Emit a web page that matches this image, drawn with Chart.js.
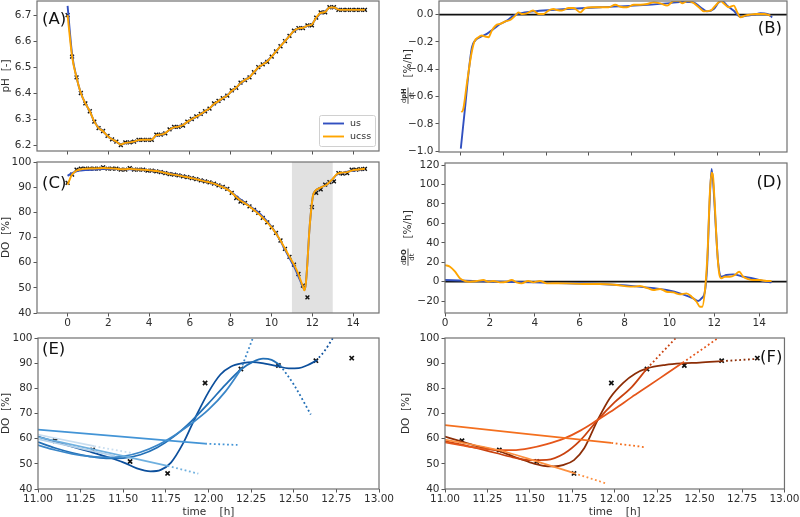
<!DOCTYPE html>
<html><head><meta charset="utf-8">
<script src="https://cdn.jsdelivr.net/npm/chart.js@4/dist/chart.umd.min.js"></script>
<style>
html,body{margin:0;padding:0;background:#fff;width:800px;height:517px;overflow:hidden;position:relative}
canvas{position:absolute}
</style></head><body>
<script>
// ---------------- DATA ----------------
const tGrid = [0,0.22,0.44,0.65,0.87,1.09,1.31,1.52,1.74,1.96,2.18,2.39,2.61,2.83,3.05,3.26,3.48,3.70,3.92,4.13,4.35,4.57,4.79,5.00,5.22,5.44,5.66,5.87,6.09,6.31,6.53,6.74,6.96,7.18,7.40,7.61,7.83,8.05,8.27,8.48,8.70,8.92,9.14,9.35,9.57,9.79,10.01,10.22,10.44,10.66,10.88,11.10,11.32,11.54,11.76,11.98,12.19,12.41,12.63,12.84,13.06,13.28,13.49,13.71,13.93,14.15,14.36,14.58];
const pHMeasured = [6.70,6.54,6.46,6.40,6.36,6.33,6.29,6.265,6.254,6.235,6.222,6.213,6.20,6.21,6.21,6.213,6.22,6.22,6.22,6.22,6.24,6.24,6.245,6.26,6.27,6.27,6.275,6.29,6.30,6.31,6.32,6.33,6.34,6.36,6.37,6.38,6.39,6.41,6.42,6.44,6.45,6.46,6.48,6.50,6.51,6.52,6.54,6.56,6.58,6.60,6.62,6.64,6.65,6.65,6.66,6.66,6.69,6.71,6.71,6.73,6.73,6.72,6.72,6.72,6.72,6.72,6.72,6.72];
const pHUs = [6.735,6.55,6.46,6.40,6.36,6.33,6.29,6.268,6.252,6.235,6.222,6.212,6.203,6.207,6.21,6.213,6.218,6.22,6.22,6.222,6.236,6.24,6.246,6.258,6.267,6.272,6.278,6.288,6.298,6.308,6.318,6.329,6.341,6.356,6.368,6.379,6.392,6.407,6.421,6.437,6.45,6.462,6.479,6.497,6.51,6.524,6.541,6.56,6.58,6.60,6.62,6.638,6.648,6.652,6.658,6.665,6.688,6.707,6.714,6.728,6.728,6.722,6.72,6.72,6.72,6.72,6.72,6.72];
const pHUcss = [6.70,6.54,6.46,6.40,6.36,6.33,6.29,6.266,6.253,6.235,6.222,6.213,6.202,6.208,6.21,6.213,6.219,6.22,6.22,6.221,6.238,6.24,6.246,6.259,6.268,6.271,6.277,6.289,6.299,6.309,6.319,6.33,6.341,6.358,6.369,6.38,6.391,6.408,6.421,6.438,6.45,6.461,6.48,6.498,6.51,6.522,6.54,6.56,6.58,6.60,6.62,6.639,6.649,6.651,6.659,6.664,6.69,6.708,6.712,6.729,6.729,6.721,6.72,6.72,6.72,6.72,6.72,6.72];
const doMeasured = [91.7,95,97,97.4,97.4,97.4,97.4,97.4,97.9,97.4,97.4,97.4,97,97,97.6,97,97,97,96.6,96.6,96.3,96,95.6,95.2,95,94.7,94.3,94,93.6,93.2,92.7,92.3,91.9,91.4,90.7,90.1,89.3,87.7,85.7,84.3,83.7,82.4,81,79.8,77.8,76,74,71.8,68.8,65.5,62.3,59.2,55.5,50.9,46.2,82.1,87.7,89.1,91.0,92.0,92.3,95.6,95.4,95.6,97,97,97.2,97.3];
const doUcss = [[0,91.0],[0.22,95.0],[0.44,96.6],[0.65,97.1],[0.87,97.3],[1.09,97.4],[1.31,97.4],[1.52,97.5],[1.74,97.6],[1.96,97.5],[2.18,97.4],[2.39,97.3],[2.61,97.1],[2.83,97.1],[3.05,97.3],[3.26,97.1],[3.48,97.0],[3.70,96.9],[3.92,96.8],[4.13,96.6],[4.35,96.4],[4.57,96.1],[4.79,95.7],[5.00,95.3],[5.22,95.0],[5.44,94.7],[5.66,94.3],[5.87,94.0],[6.09,93.6],[6.31,93.2],[6.53,92.7],[6.74,92.3],[6.96,91.9],[7.18,91.4],[7.40,90.7],[7.61,90.0],[7.83,89.1],[8.05,87.8],[8.27,86.1],[8.48,84.7],[8.70,83.6],[8.92,82.3],[9.14,80.9],[9.35,79.5],[9.57,77.8],[9.79,76.0],[10.01,73.9],[10.22,71.6],[10.44,68.8],[10.66,65.6],[10.88,62.4],[11.10,59.3],[11.32,55.4],[11.45,52.5],[11.54,50.6],[11.61,49.0],[11.68,51.5],[11.76,60],[11.84,71],[11.92,79],[12.03,86.5],[12.15,88.6],[12.3,89.4],[12.5,90.2],[12.72,91.1],[12.97,93.0],[13.21,95.2],[13.49,95.8],[13.71,96.0],[13.93,96.6],[14.15,96.9],[14.36,97.1],[14.58,97.3]];
const doUs = [[0,94.5],[0.22,95.6],[0.44,96.3],[0.65,96.6],[0.87,96.8],[1.31,97.0],[1.74,97.2],[2.18,97.2],[2.61,97.1],[3.05,97.1],[3.48,97.0],[3.92,96.8],[4.35,96.4],[4.79,95.8],[5.22,95.1],[5.66,94.4],[6.09,93.7],[6.53,92.8],[6.96,91.9],[7.40,90.8],[7.83,89.2],[8.27,86.4],[8.70,83.8],[9.14,81.3],[9.35,80.0],[9.57,78.3],[9.79,76.4],[10.01,74.1],[10.22,71.6],[10.44,68.6],[10.66,65.2],[10.88,61.8],[11.10,58.5],[11.32,54.5],[11.45,52.0],[11.54,50.4],[11.61,49.2],[11.68,51.5],[11.76,60],[11.84,71],[11.92,79],[12.03,86.5],[12.15,88.6],[12.3,89.4],[12.5,90.2],[12.72,91.1],[12.97,93.0],[13.21,95.0],[13.49,95.7],[13.93,96.5],[14.58,97.2]];
const dpHUs = [[0,-0.98],[0.2,-0.68],[0.36,-0.43],[0.52,-0.24],[0.67,-0.19],[0.9,-0.165],[1.22,-0.141],[1.53,-0.105],[1.84,-0.068],[2.16,-0.044],[2.47,-0.007],[2.78,0.01],[3.4,0.024],[4.2,0.034],[4.97,0.041],[6.53,0.054],[8.1,0.066],[9.66,0.083],[10.44,0.095],[10.9,0.09],[11.22,0.054],[11.53,0.024],[11.84,0.041],[12.08,0.09],[12.23,0.10],[12.47,0.066],[12.78,0.029],[13.09,-0.015],[13.4,-0.007],[13.72,0],[14.03,0.01],[14.34,0.005],[14.58,-0.02]];
const dpHUcss = [[0.02,-0.713],[0.1,-0.70],[0.28,-0.51],[0.47,-0.31],[0.63,-0.20],[0.83,-0.165],[0.98,-0.153],[1.14,-0.16],[1.3,-0.165],[1.45,-0.117],[1.69,-0.073],[1.84,-0.068],[2.08,-0.049],[2.31,-0.039],[2.55,-0.007],[2.7,0.017],[2.86,0.005],[3.09,0.01],[3.38,0.03],[3.64,0.005],[3.88,0.005],[4.1,0.03],[4.34,0.041],[4.5,0.034],[4.73,0.03],[5.05,0.049],[5.28,0.049],[5.59,0.017],[5.83,0.049],[6.14,0.054],[6.53,0.054],[6.92,0.054],[7.23,0.073],[7.47,0.058],[7.78,0.054],[8.1,0.073],[8.41,0.073],[8.72,0.078],[9.03,0.09],[9.34,0.083],[9.66,0.066],[9.97,0.10],[10.2,0.10],[10.36,0.083],[10.6,0.10],[10.85,0.09],[11.14,0.054],[11.38,0.024],[11.69,0.029],[11.92,0.066],[12.16,0.10],[12.34,0.078],[12.55,0.054],[12.78,0.066],[12.94,0.017],[13.1,-0.02],[13.3,-0.007],[13.53,0],[13.84,0.005],[14.2,0.005],[14.5,-0.007]];
const dDOUs = [[0,1.7],[0.96,1.0],[2.45,0],[3.93,-0.7],[5.42,-1.7],[6.9,-2.4],[8.39,-4.5],[9.87,-8.6],[10.6,-13],[11.06,-17.1],[11.28,-19.9],[11.43,-17.1],[11.58,-10.3],[11.68,15],[11.78,75],[11.88,116],[11.97,95],[12.07,55],[12.17,20],[12.32,5.1],[12.54,6.9],[12.84,7.5],[13.29,5.1],[13.73,3.4],[14.17,0.7],[14.55,-0.7]];
const dDOUcss = [[0,17.1],[0.22,15.4],[0.45,10.3],[0.67,3.4],[0.89,0.7],[1.11,0],[1.41,0.7],[1.71,1.7],[1.93,0],[2.15,0.7],[2.45,-0.7],[2.75,0],[2.97,1.7],[3.19,-0.7],[3.41,-1.7],[3.71,0.7],[3.93,-0.7],[4.23,0.7],[4.53,-1.7],[5.0,-1.6],[5.42,-1.7],[6.16,-2.4],[6.9,-2.4],[7.65,-3.4],[8.1,-4.8],[8.39,-5.1],[8.68,-4.5],[9.06,-6.9],[9.28,-8.6],[9.58,-7.5],[9.87,-10.3],[10.17,-11],[10.47,-13],[10.76,-12],[10.99,-15.4],[11.21,-20.6],[11.36,-25.7],[11.46,-25.7],[11.6,-5],[11.7,30],[11.8,90],[11.88,112],[11.94,109],[12.02,80],[12.12,35],[12.22,8],[12.32,3.4],[12.47,5.1],[12.69,5.1],[12.92,6.9],[13.11,10.3],[13.29,5.1],[13.51,2.7],[13.73,1.7],[14.03,1.7],[14.33,0.7],[14.55,0.7]];
// panel E fits (blue family): solid window part + dotted extrapolation
const eLine1 = [[11.0,63.6],[11.98,58.0]];           const eLine1Ext = [[11.98,58.0],[12.17,57.5]];
const ePaleA = [[11.0,61.6],[11.33,57.0]];           const ePaleAExt = [[11.33,57.0],[11.55,54.3]];
const ePaleB = [[11.0,59.8],[11.45,53.2]];
const eLine2 = [[11.0,60.6],[11.76,49.2]];           const eLine2Ext = [[11.76,49.2],[11.94,46.1]];
const eCurveA = [[11.0,57.4],[11.1,55.5],[11.2,54.0],[11.3,53.0],[11.4,52.6],[11.5,53.0],[11.6,54.6],[11.7,57.4],[11.8,61.3],[11.9,66.0],[12.0,71.5],[12.1,78.8],[12.19,87.5]];
const eCurveAExt = [[12.19,87.5],[12.26,100]];
const eCurveB = [[11.0,58.6],[11.1,56.3],[11.2,54.4],[11.3,53.0],[11.4,52.2],[11.5,52.3],[11.6,53.6],[11.7,56.5],[11.8,61.0],[11.9,67.0],[12.0,74.0],[12.1,81.5],[12.19,87.5],[12.26,90.5],[12.32,91.8],[12.37,91.3],[12.42,89.2]];
const eCurveBExt = [[12.42,89.2],[12.5,81.5],[12.6,69.6]];
const eCurveC = [[11.0,60.8],[11.1,58.8],[11.2,56.8],[11.3,54.9],[11.4,52.9],[11.5,50.6],[11.58,48.2],[11.66,47.0],[11.72,47.6],[11.78,50.5],[11.85,58],[11.92,68],[12.0,78.5],[12.07,85.5],[12.13,88.6],[12.2,90],[12.26,90.4],[12.33,89.8],[12.4,88.9],[12.47,87.9],[12.53,88.0],[12.58,89.2],[12.63,90.9]];
const eCurveCExt = [[12.63,90.9],[12.68,94.8],[12.73,100]];
// panel F fits (orange family)
const fLine1 = [[11.0,65.4],[11.98,58.3]];           const fLine1Ext = [[11.98,58.3],[12.18,56.6]];
const fLine2 = [[11.0,59.6],[11.32,55.4],[11.54,51.0],[11.76,46.3]]; const fLine2Ext = [[11.76,46.3],[11.95,42.2]];
const fCurveA = [[11.0,58.5],[11.1,57.3],[11.2,56.2],[11.3,55.5],[11.4,55.4],[11.5,56.2],[11.6,57.8],[11.7,60.0],[11.8,63.3],[11.9,67.5],[12.0,71.8],[12.1,76.5],[12.2,81.0],[12.3,85.6],[12.4,90.2]];
const fCurveAExt = [[12.4,90.2],[12.61,100]];
const fCurveB = [[11.0,59.0],[11.1,57.6],[11.2,56.0],[11.3,54.3],[11.4,52.6],[11.5,51.5],[11.6,51.6],[11.7,54.0],[11.8,59.5],[11.9,67.5],[12.0,74.5],[12.1,80.5],[12.19,87.9]];
const fCurveBExt = [[12.19,87.9],[12.36,100]];
const fCurveC = [[11.0,60.8],[11.1,58.8],[11.2,56.8],[11.32,55.0],[11.4,53.0],[11.5,50.6],[11.58,49.2],[11.64,49.0],[11.7,49.6],[11.76,51.5],[11.82,56.2],[11.9,67.5],[11.97,76],[12.05,82.2],[12.12,85.8],[12.19,87.9],[12.3,89.3],[12.4,89.9],[12.5,90.2],[12.63,90.8]];
const fCurveCExt = [[12.63,90.8],[12.84,91.7]];
// ticks
const timeTicks = [0,2,4,6,8,10,12,14];
const pHTicks = [6.2,6.3,6.4,6.5,6.6,6.7];
const dpHTicks = [-1.0,-0.8,-0.6,-0.4,-0.2,0.0];
const doTicks = [40,50,60,70,80,90,100];
const dDOTicks = [-20,0,20,40,60,80,100,120];
const zoomTicks = [11.00,11.25,11.50,11.75,12.00,12.25,12.50,12.75,13.00];
const shadedWindow = [11, 13];
const seriesNames = ['us','ucss'];

// ---------------- STYLE / HELPERS ----------------
const FONT = "'DejaVu Sans', sans-serif";
Chart.defaults.font.family = FONT;
const BLUE = '#3150c0', ORANGE = '#ffa500', TXT = '#2e2e2e', FRAME = '#707070';
const pts = a => a.map(([x,y]) => ({x,y}));
const grid = (tArr, vArr) => tArr.map((t,i) => ({x:t, y:vArr[i]}));
function line(data, color, w, extra) {
  return Object.assign({data, borderColor:color, backgroundColor:color, borderWidth:w, pointRadius:0,
    fill:false, cubicInterpolationMode:'monotone', order:1}, extra||{});
}
function dotted(data, color, w) { return line(data, color, w||1.8, {borderDash:[1.8,2.6], borderCapStyle:'butt'}); }
function markers(data, r, bw) {
  return {data, showLine:false, pointStyle:'crossRot', pointRadius:r||2.7, pointBorderWidth:bw||1.4,
    pointBorderColor:'#111', pointBackgroundColor:'#111', borderColor:'#111', order:20};
}
const minus = s => s.replace('-', '\u2212');

const framePlugin = {id:'frame', afterDatasetsDraw(chart){
  const {ctx, chartArea:a} = chart; ctx.save(); ctx.strokeStyle = FRAME; ctx.lineWidth = 1.2;
  ctx.strokeRect(a.left, a.top, a.right-a.left, a.bottom-a.top); ctx.restore(); }};

function letterPlugin(txt, side, dy, dx) {
  return {id:'letter', afterDraw(chart){
    const {ctx, chartArea:a} = chart; ctx.save(); ctx.font = `16.5px ${FONT}`; ctx.fillStyle = '#111';
    ctx.textBaseline = 'middle';
    if (side === 'left') { ctx.textAlign = 'left'; ctx.fillText(txt, a.left + dx, a.top + dy); }
    else { ctx.textAlign = 'right'; ctx.fillText(txt, a.right - dx, a.top + dy); }
    ctx.restore(); }};
}
function zeroLinePlugin() {
  return {id:'zero', beforeDatasetsDraw(chart){
    const {ctx, chartArea:a, scales} = chart; const y = scales.y.getPixelForValue(0);
    ctx.save(); ctx.strokeStyle = '#111'; ctx.lineWidth = 1.7; ctx.beginPath();
    ctx.moveTo(a.left, y); ctx.lineTo(a.right, y); ctx.stroke(); ctx.restore(); }};
}
function spanPlugin(range) {
  return {id:'span', beforeDatasetsDraw(chart){
    const {ctx, chartArea:a, scales} = chart;
    const x0 = scales.x.getPixelForValue(range[0]), x1 = scales.x.getPixelForValue(range[1]);
    ctx.save(); ctx.fillStyle = '#e1e1e1'; ctx.fillRect(x0, a.top, x1-x0, a.bottom-a.top); ctx.restore(); }};
}
function legendPlugin(names, colors) {
  return {id:'lg', afterDraw(chart){
    const {ctx, chartArea:a} = chart; const w = 56, h = 31;
    const l = a.right - 4 - w, t = a.bottom - 5 - h;
    ctx.save(); ctx.fillStyle = 'rgba(255,255,255,0.85)'; ctx.strokeStyle = '#d0d0d0'; ctx.lineWidth = 1;
    ctx.beginPath(); ctx.roundRect(l+0.5, t+0.5, w, h, 2); ctx.fill(); ctx.stroke();
    names.forEach((n,i) => {
      const y = t + 8.5 + i*13;
      ctx.strokeStyle = colors[i]; ctx.lineWidth = 1.9; ctx.beginPath(); ctx.moveTo(l+4, y); ctx.lineTo(l+25, y); ctx.stroke();
      ctx.fillStyle = TXT; ctx.font = `9.5px ${FONT}`; ctx.textBaseline = 'middle'; ctx.textAlign = 'left';
      ctx.fillText(n, l+31, y);
    });
    ctx.restore(); }};
}
function fracLabelPlugin(cx, numBold, unit) {
  return {id:'frac', afterDraw(chart){
    const {ctx, chartArea:a} = chart; const cy = (a.top + a.bottom)/2;
    ctx.save(); ctx.translate(cx, cy); ctx.rotate(-Math.PI/2); ctx.fillStyle = TXT;
    const small = 6.8, nf = `${small}px ${FONT}`, bf = `bold ${small}px ${FONT}`, uf = `10.5px ${FONT}`;
    ctx.font = uf; const unitW = ctx.measureText(unit).width;
    ctx.font = nf; const dW = ctx.measureText('d').width, denW = ctx.measureText('dt').width;
    ctx.font = bf; const bW = ctx.measureText(numBold).width;
    const numW = dW + bW, fracW = Math.max(numW, denW) + 1.5, gap = 10;
    const W = fracW + gap + unitW, x0 = -W/2;
    ctx.textAlign = 'left'; ctx.textBaseline = 'alphabetic';
    const nx = x0 + (fracW - numW)/2;
    ctx.font = nf; ctx.fillText('d', nx, -1.6);
    ctx.font = bf; ctx.fillText(numBold, nx + dW, -1.6);
    ctx.fillRect(x0, -0.4, fracW, 0.8);
    ctx.font = nf; ctx.fillText('dt', x0 + (fracW - denW)/2, 6.4);
    ctx.font = uf; ctx.textBaseline = 'middle'; ctx.fillText(unit, x0 + fracW + gap, 0);
    ctx.restore(); }};
}

function axis(min, max, tickVals, fmt, fitProp, fitVal, title) {
  const o = {type:'linear', min, max,
    afterBuildTicks: s => { s.ticks = tickVals.map(v => ({value:v})); },
    ticks:{autoSkip:false, maxRotation:0, minRotation:0, padding: fitProp==='width'?2:0.5, color:TXT,
      font:{size:10.5, family:FONT}, callback: v => fmt(v)},
    grid:{drawOnChartArea:false, drawTicks:true, tickLength:3.5, tickColor:'#555', tickWidth:1, color:'rgba(0,0,0,0)'},
    border:{display:false},
    afterFit: s => { s[fitProp] = fitVal; }
  };
  if (title) o.title = {display:true, text:title, color:TXT, font:{size:10.5, family:FONT},
    padding: fitProp==='width' ? {top:0,bottom:0} : {top:0,bottom:1.7}};
  return o;
}

function panel(rect, box, xAx, yAx, datasets, plugins) {
  const c = document.createElement('canvas');
  const W = box.r - box.l, H = box.b - box.t;
  c.width = W; c.height = H; c.style.left = box.l + 'px'; c.style.top = box.t + 'px';
  c.style.width = W + 'px'; c.style.height = H + 'px';
  document.body.appendChild(c);
  new Chart(c, {type:'line', data:{datasets},
    options:{responsive:false, animation:false, devicePixelRatio:1, parsing:true,
      layout:{padding:{left:0, top:rect.t - box.t, right:box.r - rect.r, bottom:0}},
      plugins:{legend:{display:false}, tooltip:{enabled:false}},
      scales:{x:xAx(box.b - rect.b), y:yAx(rect.l - box.l)}},
    plugins:[framePlugin].concat(plugins)});
}

const f1 = v => v.toFixed(1), f1m = v => minus(v.toFixed(1)), f0 = v => minus(String(Math.round(v))), f2 = v => v.toFixed(2), none = () => '';
const zoomDO = grid(tGrid, doMeasured).filter(p => p.x >= 11 && p.x <= 13);
const LW = 1.9, LWZ = 1.75;

// (A) pH
panel({l:37,t:1,r:379,b:151}, {l:0,t:-12,r:400,b:170},
  h => axis(-1.5, 15.27, timeTicks, none, 'height', h),
  w => axis(6.177, 6.754, pHTicks, f1, 'width', w, 'pH  [-]'),
  [markers(grid(tGrid, pHMeasured)), line(grid(tGrid, pHUs), BLUE, LW, {order:2}), line(grid(tGrid, pHUcss), ORANGE, LW, {order:1})],
  [letterPlugin('(A)', 'left', 19, 5), legendPlugin(seriesNames, [BLUE, ORANGE])]);

// (B) dpH/dt
panel({l:439,t:1,r:787,b:152}, {l:400,t:-12,r:800,b:170},
  h => axis(-1.02, 15.27, timeTicks, none, 'height', h),
  w => axis(-1.005, 0.1, dpHTicks, f1m, 'width', w),
  [line(pts(dpHUs), BLUE, LW, {order:2}), line(pts(dpHUcss), ORANGE, LW, {order:1})],
  [letterPlugin('(B)', 'right', 28, 5), zeroLinePlugin(), fracLabelPlugin(8, 'pH', '[%/h]')]);

// (C) DO
panel({l:37,t:162,r:379,b:313}, {l:0,t:150,r:400,b:335},
  h => axis(-1.5, 15.27, timeTicks, f0, 'height', h),
  w => axis(40, 100, doTicks, f0, 'width', w, 'DO  [%]'),
  [markers(grid(tGrid, doMeasured)), line(pts(doUs), BLUE, LW, {order:2}), line(pts(doUcss), ORANGE, LW, {order:1})],
  [letterPlugin('(C)', 'left', 22, 5), spanPlugin(shadedWindow)]);

// (D) dDO/dt
panel({l:445,t:163,r:787,b:313}, {l:400,t:150,r:800,b:335},
  h => axis(0, 15.24, timeTicks, f0, 'height', h),
  w => axis(-32.2, 122.1, dDOTicks, f0, 'width', w),
  [line(pts(dDOUs), BLUE, LW, {order:2}), line(pts(dDOUcss), ORANGE, LW, {order:1})],
  [letterPlugin('(D)', 'right', 20, 5), zeroLinePlugin(), fracLabelPlugin(8, 'DO', '[%/h]')]);

// (E) blue fits
panel({l:38,t:338,r:379,b:489}, {l:0,t:325,r:400,b:520},
  h => axis(11, 13, zoomTicks, f2, 'height', h, 'time    [h]'),
  w => axis(40, 100, doTicks, f0, 'width', w, 'DO  [%]'),
  [markers(zoomDO, 3, 1.7),
   line(pts(ePaleA), '#c9def0', LWZ), dotted(pts(ePaleAExt), '#c9def0'),
   line(pts(ePaleB), '#b3d1ea', LWZ),
   line(pts(eLine2), '#6fb0df', LWZ), dotted(pts(eLine2Ext), '#6fb0df'),
   line(pts(eLine1), '#4394d6', LWZ), dotted(pts(eLine1Ext), '#4394d6'),
   line(pts(eCurveA), '#3a86c8', LWZ), dotted(pts(eCurveAExt), '#3a86c8'),
   line(pts(eCurveB), '#226fb6', LWZ), dotted(pts(eCurveBExt), '#226fb6'),
   line(pts(eCurveC), '#0c4f9c', LWZ), dotted(pts(eCurveCExt), '#0c4f9c')],
  [letterPlugin('(E)', 'left', 12, 4)]);

// (F) orange fits
panel({l:445,t:338,r:787,b:489}, {l:400,t:325,r:800,b:520},
  h => axis(11, 13, zoomTicks, f2, 'height', h, 'time    [h]'),
  w => axis(40, 100, doTicks, f0, 'width', w, 'DO  [%]'),
  [markers(zoomDO, 3, 1.7),
   line(pts(fLine2), '#fd9040', LWZ), dotted(pts(fLine2Ext), '#fd9040'),
   line(pts(fLine1), '#f4701f', LWZ), dotted(pts(fLine1Ext), '#f4701f'),
   line(pts(fCurveA), '#e5561a', LWZ), dotted(pts(fCurveAExt), '#e5561a'),
   line(pts(fCurveB), '#c9420f', LWZ), dotted(pts(fCurveBExt), '#c9420f'),
   line(pts(fCurveC), '#8c2d06', LWZ), dotted(pts(fCurveCExt), '#8c2d06')],
  [letterPlugin('(F)', 'right', 20, 2)]);
</script>
</body></html>
